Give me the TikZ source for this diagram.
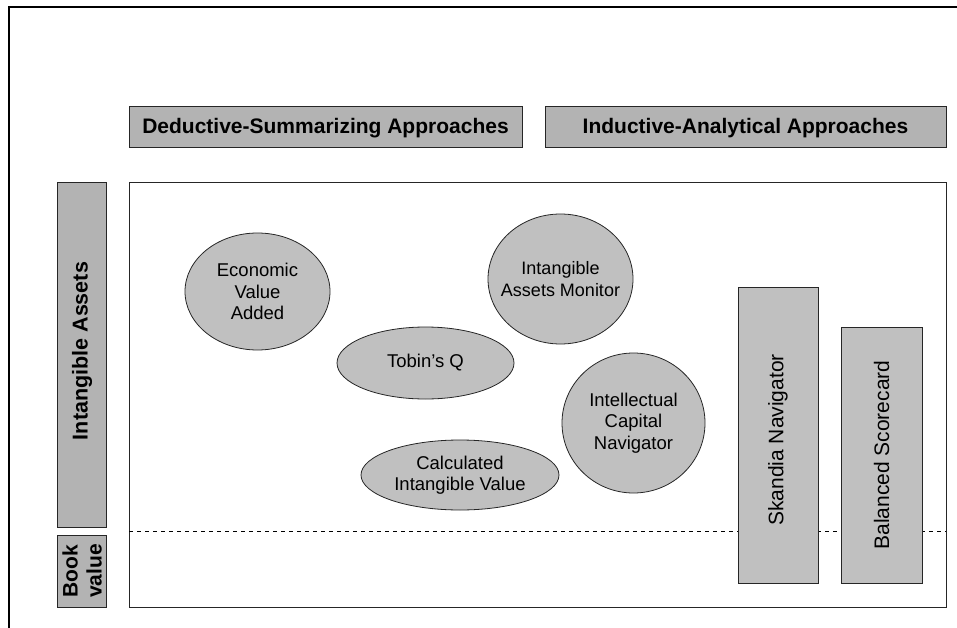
\documentclass[tikz,border=0pt]{standalone}
\usepackage{fontspec}
\setmainfont{Liberation Sans}
\definecolor{hdrgray}{HTML}{B3B3B3}
\definecolor{elgray}{HTML}{C0C0C0}
\begin{document}
\begin{tikzpicture}[x=1pt,y=-1pt,
  hdr/.style={draw=black!85, line width=1pt, fill=hdrgray},
  hdrtext/.style={font=\fontsize{21}{23}\selectfont\bfseries},
  elshape/.style={draw=black!85, line width=0.8pt, fill=elgray},
  eltext/.style={inner sep=0pt, align=center, font=\fontsize{18.5}{21.5}\selectfont},
  vbox/.style={draw=black!85, line width=1pt, fill=elgray},
  lbl/.style={font=\fontsize{21}{23}\selectfont, rotate=90, align=center}]
\useasboundingbox (0,0) rectangle (957,628);
% outer frame lines
\draw[line width=2.2pt] (9,628) -- (9,7) -- (957,7);
% headers
\draw[hdr] (129,107) rectangle (522,148);
\node[hdrtext] (ded) at (325.5,128) {Deductive-Summarizing Approaches};
\draw[hdr] (545,107) rectangle (946,148);
\node[hdrtext] (ind) at (745.5,128) {Inductive-Analytical Approaches};
% left side bars
\draw[hdr] (57,183) rectangle (106,527);
\node[rotate=90, font=\fontsize{21.5}{23}\selectfont\bfseries] (ia) at (82,351) {Intangible Assets};
\draw[hdr] (57,535) rectangle (106,607);
\node[rotate=90, align=center, font=\fontsize{21}{24}\selectfont\bfseries] (bv) at (82,571) {Book\\value};
% main frame
\draw[line width=1pt, draw=black!85] (129,183) rectangle (946,607);
\draw[dashed, line width=0.6pt, dash pattern=on 4pt off 4pt] (129,531) -- (946,531);
% ellipses
\draw[elshape] (257.5,291.5) ellipse [x radius=72.5, y radius=58.5];
\node[eltext] (eva) at (257.5,291.5) {Economic\\Value\\Added};
\draw[elshape] (425.5,363) ellipse [x radius=88.5, y radius=36];
\node[eltext] (tq) at (425.5,363) {Tobin’s Q};
\draw[elshape] (460,475) ellipse [x radius=99, y radius=35];
\node[eltext] (civ) at (460,475) {Calculated\\Intangible Value};
\draw[elshape] (560.5,279) ellipse [x radius=72.5, y radius=65];
\node[eltext, font=\fontsize{18}{21.5}\selectfont] (iam) at (560.5,279) {Intangible\\Assets Monitor};
\draw[elshape] (633.5,423) ellipse [x radius=71.5, y radius=70];
\node[eltext] (icn) at (633.5,423) {Intellectual\\Capital\\Navigator};
% vertical boxes
\draw[vbox] (738,287) rectangle (818,583);
\node[lbl] (sk) at (778,440) {Skandia Navigator};
\draw[vbox] (841,327) rectangle (922,583);
\node[lbl] (bs) at (881.5,455) {Balanced Scorecard};
\end{tikzpicture}
\end{document}
